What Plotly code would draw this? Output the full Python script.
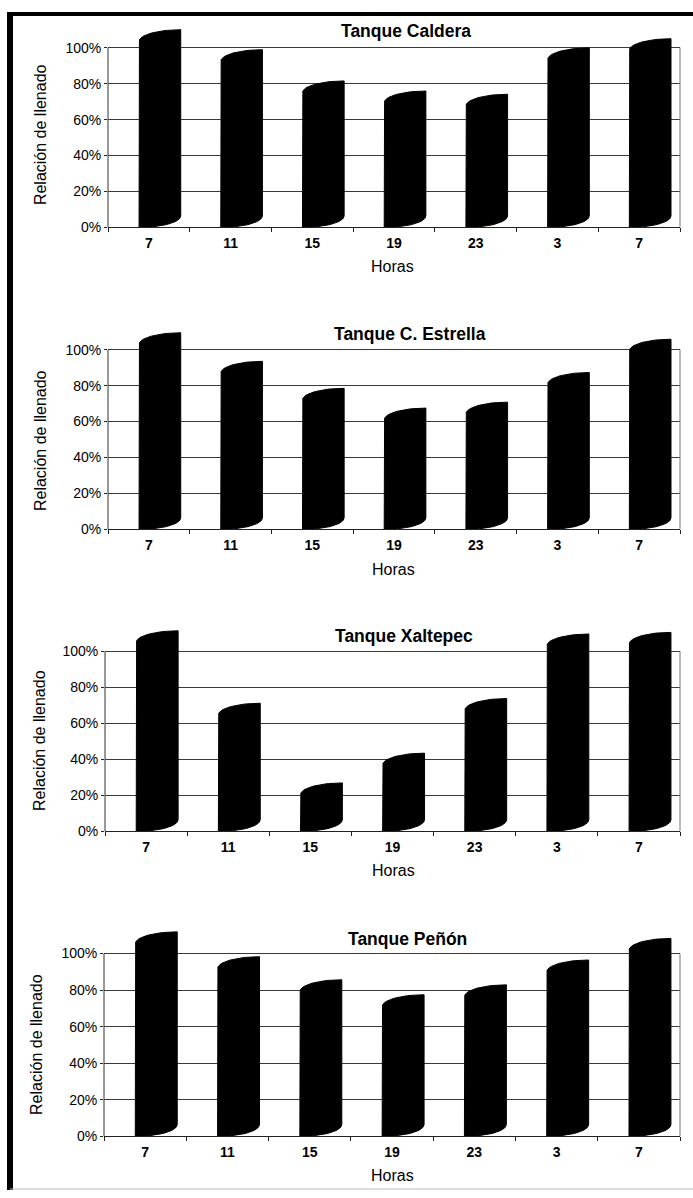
import numpy as np
import plotly.graph_objects as go

# ---- data ----
hours = ["7", "11", "15", "19", "23", "3", "7"]
tank_names = ["Tanque Caldera", "Tanque C. Estrella", "Tanque Xaltepec", "Tanque Peñón"]
caldera = [103.5, 92.4, 75.0, 69.4, 67.6, 93.4, 98.5]
estrella = [102.9, 87.0, 72.0, 61.0, 64.3, 80.8, 99.3]
xaltepec = [104.8, 64.6, 20.4, 36.9, 67.2, 103.0, 103.9]
penon = [105.4, 91.8, 79.2, 71.0, 76.4, 90.0, 101.8]
y_ticks = [0, 20, 40, 60, 80, 100]
y_ticktext = ["0%", "20%", "40%", "60%", "80%", "100%"]
series = [caldera, estrella, xaltepec, penon]

W, H = 693, 1198
FONT = "Liberation Sans, Arial, sans-serif"

# panel geometry in pixels: (left, right, zero_px, px_per_unit)
panels = [
    (108, 680, 229, 1.81),
    (108, 680, 533, 1.81),
    (105, 680, 837, 1.815),
    (104, 680, 1144, 1.84),
]
YMAX = 113
title_pos = [(406, 31), (410, 336), (404, 640), (407, 945)]
ytitle_pos = [(40, 136), (40, 444), (39, 746), (37, 1052)]
xtitle_pos = [(392, 268), (393, 573), (393, 876), (392, 1183)]

# cylinder silhouette geometry (category / value units)
OFF_L, WID, DEPTH = 0.12, 0.51, 6.5


def cylinder(i, v):
    x0 = i - OFF_L
    x1 = x0 + WID
    t = np.linspace(0, np.pi / 2, 24)
    xs = [x0, x0]
    ys = [0, v]
    xs += list(x1 - WID * np.cos(t))
    ys += list(v + DEPTH * np.sin(t))
    xs += [x1]
    ys += [DEPTH]
    tb = t[::-1]
    xs += list(x0 + WID * np.sin(tb))
    ys += list(DEPTH - DEPTH * np.cos(tb))
    return xs, ys


fig = go.Figure()
layout = dict(
    width=W, height=H, margin=dict(l=0, r=0, t=0, b=0),
    paper_bgcolor="white", plot_bgcolor="white", showlegend=False,
    font=dict(family=FONT, color="black"),
)
annotations = []
shapes = []

for k, vals in enumerate(series):
    left, right, zpx, sc = panels[k]
    top_px = zpx - YMAX * sc
    xa = "x" if k == 0 else f"x{k+1}"
    ya = "y" if k == 0 else f"y{k+1}"
    xkey = "xaxis" if k == 0 else f"xaxis{k+1}"
    ykey = "yaxis" if k == 0 else f"yaxis{k+1}"
    for i, v in enumerate(vals):
        xs, ys = cylinder(i, v)
        fig.add_trace(go.Scatter(
            x=xs, y=ys, mode="lines", fill="toself", fillcolor="black",
            line=dict(color="black", width=1), xaxis=xa, yaxis=ya,
            hoverinfo="skip"))
    layout[xkey] = dict(
        domain=[left / W, right / W], anchor=ya, range=[-0.5, 6.5],
        tickmode="array", tickvals=list(range(len(hours))), ticktext=hours,
        ticks="", showgrid=False, zeroline=False,
        showline=True, linecolor="#222", linewidth=1,
        minor=dict(tick0=-0.5, dtick=1, ticks="outside", ticklen=4,
                   tickcolor="#222", showgrid=False),
        tickfont=dict(size=14, family=FONT, color="black", weight="bold"),
        ticklabelstandoff=3, fixedrange=True,
    )
    layout[ykey] = dict(
        domain=[1 - zpx / H, 1 - top_px / H], anchor=xa, range=[0, YMAX],
        tickmode="array", tickvals=y_ticks, ticktext=y_ticktext,
        ticks="outside", ticklen=3, tickcolor="#222",
        showgrid=True, gridcolor="#3a3a3a", gridwidth=1,
        zeroline=False, showline=False,
        tickfont=dict(size=14, family=FONT, color="black"),
        fixedrange=True,
    )
    # plot-area frame (left and right edges, 0..100%)
    for xd in (0, 1):
        shapes.append(dict(type="line", xref=f"{xa} domain", yref=ya,
                           x0=xd, x1=xd, y0=0, y1=100,
                           line=dict(color="#333" if xd == 0 else "#777", width=1)))
    tx, ty = title_pos[k]
    annotations.append(dict(text=f"<b>{tank_names[k]}</b>", x=tx / W, y=1 - ty / H,
                            xref="paper", yref="paper", showarrow=False,
                            font=dict(size=17.5, family=FONT, color="black"),
                            xanchor="center", yanchor="middle"))
    yx, yy = ytitle_pos[k]
    annotations.append(dict(text="Relación de llenado", x=yx / W, y=1 - yy / H,
                            xref="paper", yref="paper", showarrow=False, textangle=-90,
                            font=dict(size=16, family=FONT, color="black"),
                            xanchor="center", yanchor="middle"))
    hx, hy = xtitle_pos[k]
    annotations.append(dict(text="Horas", x=hx / W, y=1 - hy / H,
                            xref="paper", yref="paper", showarrow=False,
                            font=dict(size=16, family=FONT, color="black"),
                            xanchor="center", yanchor="middle"))

# page frame (scanned page border)
shapes.append(dict(type="line", xref="paper", yref="paper",
                   x0=10 / W, x1=1, y0=1 - 14 / H, y1=1 - 14 / H,
                   line=dict(color="black", width=4)))
shapes.append(dict(type="line", xref="paper", yref="paper",
                   x0=10 / W, x1=10 / W, y0=0, y1=1 - 12 / H,
                   line=dict(color="black", width=6)))
shapes.append(dict(type="line", xref="paper", yref="paper",
                   x0=10 / W, x1=1, y0=1 / H, y1=1 / H,
                   line=dict(color="#bbb", width=1)))

layout["annotations"] = annotations
layout["shapes"] = shapes
fig.update_layout(**layout)
fig.write_html(
    "out.html",
    config={"displayModeBar": False},
    post_script="document.body.style.margin='0';document.body.style.overflow='hidden';",
)
